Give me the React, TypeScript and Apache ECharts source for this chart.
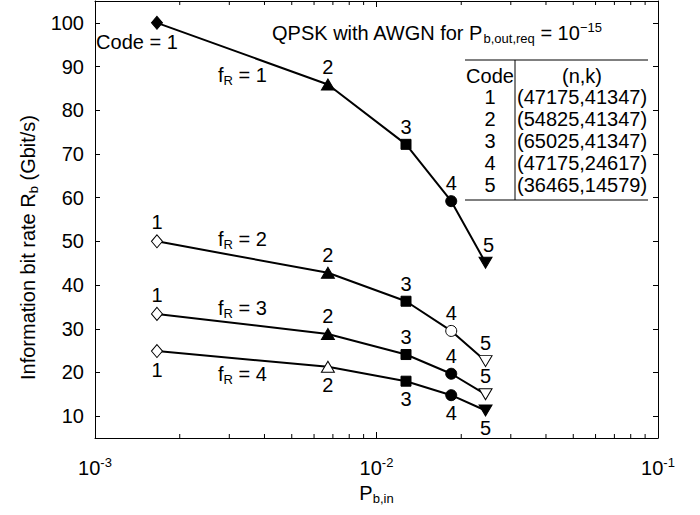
import React, { useEffect, useRef } from "react";
import * as echarts from "echarts";

// ---- data ----
const codes = ["1", "2", "3", "4", "5"];
const pbIn = [1.66e-3, 6.72e-3, 1.273e-2, 1.843e-2, 2.44e-2];
const rateFr1 = [100, 85.9, 72.2, 59.2, 45.1];
const rateFr2 = [50, 42.8, 36.3, 29.5, 22.6];
const rateFr3 = [33.4, 28.8, 24.1, 19.7, 15.0];
const rateFr4 = [24.9, 21.3, 18.0, 14.8, 11.3];
const yTickValues = [10, 20, 30, 40, 50, 60, 70, 80, 90, 100];
const xMinorTickValues = [
  2e-3, 3e-3, 4e-3, 5e-3, 6e-3, 7e-3, 8e-3, 9e-3,
  2e-2, 3e-2, 4e-2, 5e-2, 6e-2, 7e-2, 8e-2, 9e-2,
];
const tableCodes = ["1", "2", "3", "4", "5"];
const tableNK = [
  "(47175,41347)",
  "(54825,41347)",
  "(65025,41347)",
  "(47175,24617)",
  "(36465,14579)",
];
const frNames = ["1", "2", "3", "4"];

// ---- styles ----
const FONT = "'Liberation Sans', Arial, Helvetica, sans-serif";
const FS = 20;
const SFS = 13;
const symbols = ["diamond", "triangle", "rect", "circle", "triangle"];
const rotations = [0, 0, 0, 0, 180];
const sizes: any[] = [[11, 13], [13, 11], 10, 11, [13, 11]];
const fillsFr1 = [true, true, true, true, true];
const fillsFr2 = [false, true, true, false, false];
const fillsFr3 = [false, true, true, true, false];
const fillsFr4 = [false, false, true, true, true];

function makeSeries(name: string, values: number[], fills: boolean[], labelPos: string, first: boolean) {
  return {
    type: "line",
    name,
    xAxisIndex: 0,
    yAxisIndex: 0,
    silent: true,
    z: 3,
    emphasis: { disabled: true },
    lineStyle: { color: "#000", width: 2 },
    data: values.map((v, i) => {
      const item: any = {
        value: [pbIn[i], v],
        symbol: symbols[i],
        symbolRotate: rotations[i],
        symbolSize: sizes[i],
        itemStyle: { color: fills[i] ? "#000" : "#fff", borderColor: "#000", borderWidth: 1 },
        label: {
          show: true,
          position: labelPos,
          distance: 2,
          formatter: codes[i],
          fontSize: FS,
          fontFamily: FONT,
          color: "#000",
        },
      };
      if (first && i === 0) {
        item.label.formatter = "Code = " + codes[i];
        item.label.position = "bottom";
        item.label.offset = [-20, 0];
      }
      if (first && i === 4) {
        item.label.offset = [3, 0];
      }
      return item;
    }),
  };
}

const subRich = {
  a: { fontSize: FS, fontFamily: FONT, color: "#000" },
  b: { fontSize: SFS, fontFamily: FONT, color: "#000", padding: [11, 0, 0, 0] },
  c: { fontSize: SFS, fontFamily: FONT, color: "#000", padding: [0, 0, 11, 0] },
};

export default function App() {
  const ref = useRef<HTMLDivElement>(null);
  useEffect(() => {
    document.body.style.margin = "0";
    const chart = echarts.init(ref.current!, null, { renderer: "svg" });

    const frLabelY = [73, 237, 306, 372];
    const graphic: any[] = [];
    // title
    graphic.push({
      type: "text",
      x: 272,
      y: 33,
      style: {
        text: "{a|QPSK with AWGN for P}{b|b,out,req}{a| = 10}{c|−15}",
        rich: subRich,
        align: "left",
        verticalAlign: "middle",
      },
    });
    // fR labels
    frNames.forEach((f, i) => {
      graphic.push({
        type: "text",
        x: 218,
        y: frLabelY[i] + 2,
        style: {
          text: "{a|f}{b|R}{a| = " + f + "}",
          rich: subRich,
          align: "left",
          verticalAlign: "middle",
        },
      });
    });
    // table
    graphic.push({ type: "line", shape: { x1: 465, y1: 60, x2: 648, y2: 60 }, style: { stroke: "#000", lineWidth: 1 } });
    graphic.push({ type: "line", shape: { x1: 465, y1: 200, x2: 648, y2: 200 }, style: { stroke: "#000", lineWidth: 1 } });
    graphic.push({ type: "line", shape: { x1: 515, y1: 60, x2: 515, y2: 200 }, style: { stroke: "#000", lineWidth: 1 } });
    graphic.push({
      type: "text", x: 490, y: 76,
      style: { text: "Code", fontSize: FS, fontFamily: FONT, fill: "#000", align: "center", verticalAlign: "middle" },
    });
    graphic.push({
      type: "text", x: 582, y: 76,
      style: { text: "(n,k)", fontSize: FS, fontFamily: FONT, fill: "#000", align: "center", verticalAlign: "middle" },
    });
    tableCodes.forEach((c, i) => {
      graphic.push({
        type: "text", x: 490, y: 97 + 22 * i,
        style: { text: c, fontSize: FS, fontFamily: FONT, fill: "#000", align: "center", verticalAlign: "middle" },
      });
      graphic.push({
        type: "text", x: 517, y: 97 + 22 * i,
        style: { text: tableNK[i], fontSize: FS, fontFamily: FONT, fill: "#000", align: "left", verticalAlign: "middle" },
      });
    });

    const axisLine = { show: true, lineStyle: { color: "#000", width: 1 } };

    chart.setOption({
      animation: false,
      backgroundColor: "#fff",
      grid: { left: 95, right: 42, top: 1, bottom: 77, containLabel: false },
      xAxis: [
        {
          type: "log",
          logBase: 10,
          min: 0.001,
          max: 0.1,
          position: "bottom",
          axisLine,
          axisTick: { show: true, inside: true, length: 6, lineStyle: { color: "#000" } },
          splitLine: { show: false },
          axisLabel: {
            show: true,
            margin: 18,
            formatter: (v: number) => "{b|10}{s|" + Math.round(Math.log10(v)).toString() + "}",
            rich: {
              b: { fontSize: FS, fontFamily: FONT, color: "#000" },
              s: { fontSize: SFS, fontFamily: FONT, color: "#000", padding: [0, 0, 11, 0] },
            },
          },
          name: "{a|P}{b|b,in}",
          nameLocation: "middle",
          nameGap: 34,
          nameTextStyle: { rich: subRich },
        },
        {
          type: "log",
          logBase: 10,
          min: 0.001,
          max: 0.1,
          position: "top",
          axisLine,
          axisTick: { show: true, inside: true, length: 6, lineStyle: { color: "#000" } },
          splitLine: { show: false },
          axisLabel: { show: false },
        },
      ],
      yAxis: [
        {
          type: "value",
          min: 5,
          max: 105,
          position: "left",
          axisLine,
          axisTick: { show: true, inside: true, length: 5, customValues: yTickValues, lineStyle: { color: "#000" } },
          splitLine: { show: false },
          axisLabel: {
            show: true,
            customValues: yTickValues,
            margin: 11,
            fontSize: FS,
            fontFamily: FONT,
            color: "#000",
          },
          name: "{a|Information bit rate R}{b|b}{a| (Gbit/s)}",
          nameLocation: "middle",
          nameGap: 52,
          nameTextStyle: { rich: subRich, padding: [0, 56, 0, 0] },
        },
        {
          type: "value",
          min: 5,
          max: 105,
          position: "right",
          axisLine,
          axisTick: { show: true, inside: true, length: 5, customValues: yTickValues, lineStyle: { color: "#000" } },
          splitLine: { show: false },
          axisLabel: { show: false },
        },
      ],
      graphic,
      series: [
        {
          type: "custom",
          coordinateSystem: "cartesian2d",
          xAxisIndex: 0,
          yAxisIndex: 0,
          silent: true,
          clip: false,
          data: xMinorTickValues.map((v) => [v, 5]),
          renderItem: (params: any, api: any) => {
            const x = api.coord([api.value(0), api.value(1)])[0];
            const cs = params.coordSys;
            return {
              type: "group",
              children: [
                { type: "line", shape: { x1: x, y1: cs.y + cs.height, x2: x, y2: cs.y + cs.height - 4 }, style: { stroke: "#000", lineWidth: 1 } },
                { type: "line", shape: { x1: x, y1: cs.y, x2: x, y2: cs.y + 4 }, style: { stroke: "#000", lineWidth: 1 } },
              ],
            };
          },
        },
        makeSeries("fR = 1", rateFr1, fillsFr1, "top", true),
        makeSeries("fR = 2", rateFr2, fillsFr2, "top", false),
        makeSeries("fR = 3", rateFr3, fillsFr3, "top", false),
        makeSeries("fR = 4", rateFr4, fillsFr4, "bottom", false),
      ],
    });
    return () => chart.dispose();
  }, []);
  return (
    <div
      ref={ref}
      style={{ position: "absolute", left: 0, top: 0, width: 700, height: 515 }}
    />
  );
}
